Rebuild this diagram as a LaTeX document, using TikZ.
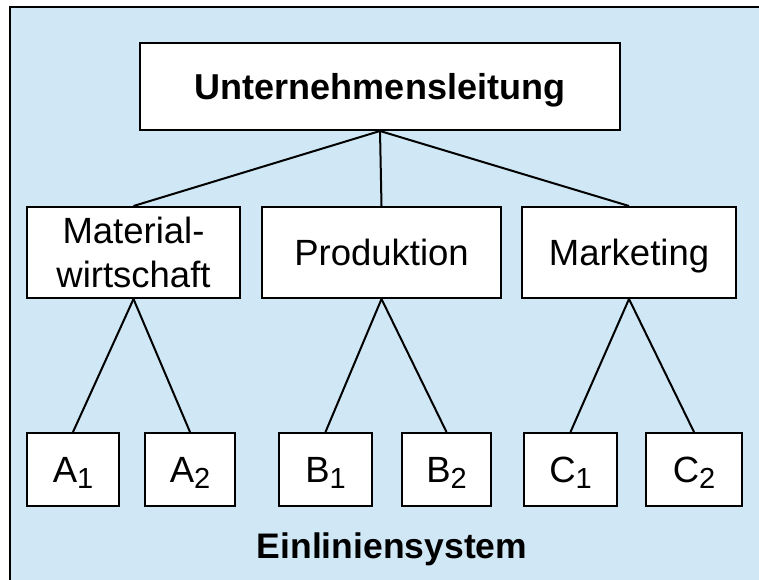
\documentclass[tikz,border=0pt]{standalone}
\usepackage{fontspec}
\setmainfont{Liberation Sans}
\definecolor{bgblue}{RGB}{208,232,245}
\begin{document}
\begin{tikzpicture}[x=1pt,y=-1pt,
  box/.style={draw=black,fill=white,line width=2pt,inner sep=0pt,
    text height=26pt,text depth=0pt,font=\fontsize{36.5}{40}\selectfont},
  link/.style={line width=2pt}]
\useasboundingbox (0,0) rectangle (759,579);
\draw[fill=bgblue,line width=2.5pt] (10,7) rectangle (768,590);
\node[box,minimum width=480pt,minimum height=87pt,font=\fontsize{36}{40}\selectfont\bfseries] (top) at (380,86.5) {Unternehmensleitung};
\node[box,minimum width=213pt,minimum height=91pt,align=center,text height=,text depth=,font=\fontsize{36.5}{44}\selectfont] (mat) at (133.5,252.5) {Material-\\wirtschaft};
\node[box,minimum width=239pt,minimum height=91pt] (prod) at (381.5,252.5) {Produktion};
\node[box,minimum width=214pt,minimum height=91pt] (mark) at (629,252.5) {Marketing};
\newcommand{\subi}[2]{#1\raisebox{-6pt}{\fontsize{29}{29}\selectfont #2}}
\node[box,minimum width=92pt,minimum height=73pt] (a1) at (73,469.5) {\subi{A}{1}};
\node[box,minimum width=90pt,minimum height=73pt] (a2) at (190,469.5) {\subi{A}{2}};
\node[box,minimum width=93pt,minimum height=73pt] (b1) at (325.5,469.5) {\subi{B}{1}};
\node[box,minimum width=89pt,minimum height=73pt] (b2) at (446.5,469.5) {\subi{B}{2}};
\node[box,minimum width=93pt,minimum height=73pt] (c1) at (570.5,469.5) {\subi{C}{1}};
\node[box,minimum width=96pt,minimum height=73pt] (c2) at (694,469.5) {\subi{C}{2}};
\node[anchor=base,inner sep=0pt,font=\fontsize{35.5}{40}\selectfont\bfseries] (title) at (392,558) {Einliniensystem};
\draw[link] (top.south) -- (mat.north);
\draw[link] (top.south) -- (prod.north);
\draw[link] (top.south) -- (mark.north);
\draw[link] (mat.south) -- (a1.north);
\draw[link] (mat.south) -- (a2.north);
\draw[link] (prod.south) -- (b1.north);
\draw[link] (prod.south) -- (b2.north);
\draw[link] (mark.south) -- (c1.north);
\draw[link] (mark.south) -- (c2.north);
\end{tikzpicture}
\end{document}
